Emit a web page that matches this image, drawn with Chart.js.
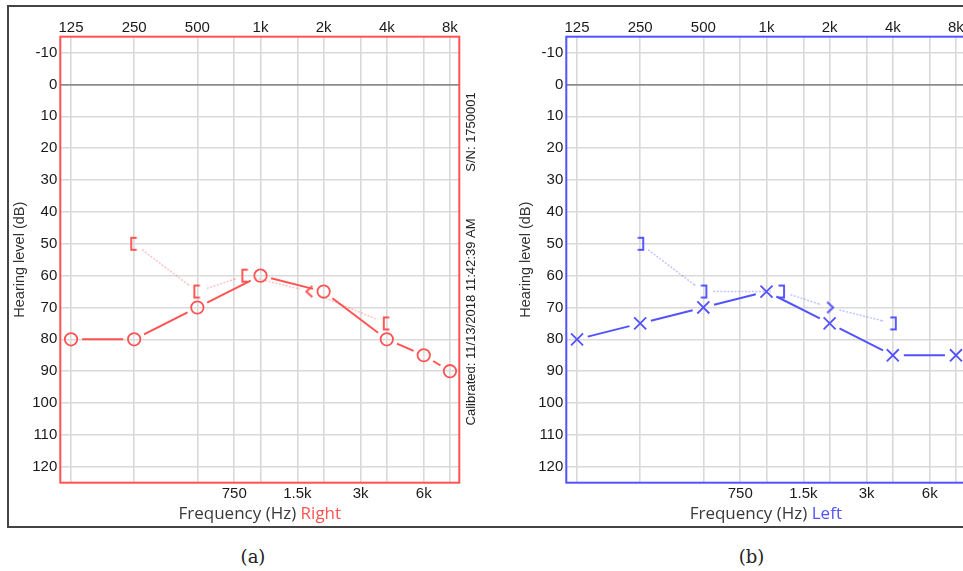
<!DOCTYPE html>
<html>
<head>
<meta charset="utf-8">
<title>Audiogram</title>
<script src="https://cdn.jsdelivr.net/npm/chart.js@4.4.1/dist/chart.umd.min.js"></script>
<style>
  html, body { margin: 0; padding: 0; background: #fff; width: 963px; height: 571px; overflow: hidden; }
  #frame { position: absolute; left: 7px; top: 5px; width: 1100px; height: 519px; border: 2px solid #444; }
  .panel { position: absolute; top: 8px; width: 472px; height: 517px; }
  .cap { position: absolute; top: 546px; line-height: 20px; font: 18px "DejaVu Serif", serif; color: #222; transform: translateX(-50%); }
</style>
</head>
<body>
<div id="frame"></div>
<div class="panel" style="left:8px"><canvas id="rightChart" width="472" height="517"></canvas></div>
<div class="panel" style="left:513.5px"><canvas id="leftChart" width="472" height="517"></canvas></div>
<div class="cap" style="left:253px">(a)</div>
<div class="cap" style="left:751.5px">(b)</div>
<script>
// axis ticks
const freqTop = [125, 250, 500, 1000, 2000, 4000, 8000];
const freqMid = [750, 1500, 3000, 6000];
const dbTicks = [-10, 0, 10, 20, 30, 40, 50, 60, 70, 80, 90, 100, 110, 120];

// right ear
const rightAirFreq = [125, 250, 500, 1000, 2000, 4000, 6000, 8000];
const rightAirDb = [80, 80, 70, 60, 65, 80, 85, 90];
const rightBoneFreq = [250, 500, 1000, 2000, 4000];
const rightBoneDb = [50, 65, 60, 65, 75];
const rightBoneSym = ['[', '[', '[', '<', '['];

// left ear
const leftAirFreq = [125, 250, 500, 1000, 2000, 4000, 8000];
const leftAirDb = [80, 75, 70, 65, 75, 85, 85];
const leftBoneFreq = [250, 500, 1000, 2000, 4000];
const leftBoneDb = [50, 65, 65, 70, 75];
const leftBoneSym = [']', ']', ']', '>', ']'];

// bone symbols are nudged sideways (in octaves) where they would sit on an air marker
const rightBoneNudge = [0, 0, -0.24, -0.22, 0];
const leftBoneNudge = [0, 0, 0.23, 0, 0];

const RED = '#ff5252';
const BLUE = '#5252ff';
const tickFont = { family: 'Liberation Sans', size: 15 };

function fmtFreq(v) {
    return v >= 1000 ? (v / 1000) + 'k' : String(v);
}

function symbol(kind, color) {
    const c = document.createElement('canvas');
    c.width = 16; c.height = 16;
    const g = c.getContext('2d');
    g.strokeStyle = color;
    g.lineWidth = 1.9;
    g.beginPath();
    if (kind === '[') { g.moveTo(10.5, 2); g.lineTo(5, 2); g.lineTo(5, 14); g.lineTo(10.5, 14); }
    if (kind === ']') { g.moveTo(5.5, 2); g.lineTo(11, 2); g.lineTo(11, 14); g.lineTo(5.5, 14); }
    if (kind === '<') { g.moveTo(10.5, 2.5); g.lineTo(4.5, 8); g.lineTo(10.5, 13.5); }
    if (kind === '>') { g.moveTo(5.5, 2.5); g.lineTo(11.5, 8); g.lineTo(5.5, 13.5); }
    g.stroke();
    return c;
}

// line segment that stops short of both markers
function gapDash(gap) {
    return ctx => {
        const L = Math.hypot(ctx.p1.x - ctx.p0.x, ctx.p1.y - ctx.p0.y);
        return [0, gap, Math.max(L - 2 * gap, 0), gap];
    };
}

function dottedGapDash(gap, on, off) {
    return ctx => {
        const L = Math.hypot(ctx.p1.x - ctx.p0.x, ctx.p1.y - ctx.p0.y);
        const arr = [0, gap];
        let rem = L - 2 * gap;
        while (rem > on + off) { arr.push(on, off); rem -= on + off; }
        arr.push(Math.max(rem, 0), gap);
        return arr;
    };
}

const audioDecor = {
    id: 'audioDecor',
    afterDatasetsDraw(chart, args, opts) {
        const a = chart.chartArea;
        const ctx = chart.ctx;
        ctx.save();
        ctx.strokeStyle = opts.color;
        ctx.lineWidth = 2;
        ctx.strokeRect(a.left, a.top, a.right - a.left, a.bottom - a.top);
        ctx.restore();
    },
    afterDraw(chart, args, opts) {
        const a = chart.chartArea;
        const ctx = chart.ctx;
        ctx.save();
        // x axis title with coloured ear name
        ctx.font = '17px "Open Sans"';
        const t1 = 'Frequency (Hz) ';
        const w1 = ctx.measureText(t1).width;
        const w2 = ctx.measureText(opts.ear).width;
        const x0 = (a.left + a.right) / 2 - (w1 + w2) / 2;
        const y0 = a.bottom + 36.6;
        ctx.textAlign = 'left';
        ctx.textBaseline = 'alphabetic';
        ctx.fillStyle = '#3a3a3a';
        ctx.fillText(t1, x0, y0);
        ctx.fillStyle = opts.color;
        ctx.fillText(opts.ear, x0 + w1, y0);
        // device info along the right edge
        ctx.font = '13px "Liberation Sans"';
        ctx.fillStyle = '#222';
        ctx.textAlign = 'center';
        ctx.textBaseline = 'middle';
        ctx.translate(a.right + 11.7, 0);
        ctx.rotate(-Math.PI / 2);
        ctx.fillText('S/N: 1750001', -124, 0);
        ctx.fillText('Calibrated: 11/13/2018 11:42:39 AM', -314, 0);
        ctx.restore();
    }
};

function makeAudiogram(id, ear, color, boneColor, airFreq, airDb, airStyle, airRadius,
                       boneFreq, boneDb, boneSym, boneNudge) {
    const symbols = boneSym.map(s => symbol(s, color));
    const xMin = 125 * Math.pow(2, -0.17);
    const xMax = 8000 * Math.pow(2, 0.148);
    const grid = { color: '#d9d9d9', lineWidth: 1.6, drawTicks: false };

    new Chart(document.getElementById(id), {
        type: 'line',
        data: {
            datasets: [{
                label: ear + ' air',
                data: airFreq.map((f, i) => ({ x: f, y: airDb[i] })),
                xAxisID: 'xTop',
                borderColor: color,
                borderWidth: 2,
                tension: 0,
                pointStyle: airStyle,
                pointRadius: airRadius,
                pointBorderWidth: 1.8,
                pointBorderColor: color,
                pointBackgroundColor: 'rgba(0,0,0,0)',
                segment: { borderDash: gapDash(11) },
                order: 1
            }, {
                label: ear + ' bone',
                data: boneFreq.map((f, i) => ({ x: f * Math.pow(2, boneNudge[i]), y: boneDb[i] })),
                xAxisID: 'xTop',
                borderColor: boneColor,
                borderWidth: 1.5,
                tension: 0,
                pointStyle: ctx => symbols[ctx.dataIndex],
                pointRadius: 8,
                segment: { borderDash: dottedGapDash(10, 2, 1.5) },
                order: 2
            }]
        },
        options: {
            responsive: false,
            animation: false,
            events: [],
            layout: { padding: { left: 0, top: 0, right: 20.7, bottom: 0 } },
            plugins: {
                legend: { display: false },
                tooltip: { enabled: false },
                audioDecor: { ear: ear, color: color }
            },
            scales: {
                xTop: {
                    type: 'logarithmic',
                    position: 'top',
                    min: xMin,
                    max: xMax,
                    afterBuildTicks: s => { s.ticks = freqTop.map(v => ({ value: v })); },
                    afterFit: s => { s.height = 28.7; },
                    ticks: { callback: v => fmtFreq(v), autoSkip: false, maxRotation: 0, padding: 0, color: '#1a1a1a', font: tickFont },
                    grid: grid,
                    border: { display: false }
                },
                xBot: {
                    type: 'logarithmic',
                    position: 'bottom',
                    min: xMin,
                    max: xMax,
                    afterBuildTicks: s => { s.ticks = freqMid.map(v => ({ value: v })); },
                    afterFit: s => { s.height = 42.3; },
                    ticks: { callback: v => fmtFreq(v), autoSkip: false, maxRotation: 0, padding: 2.5, color: '#1a1a1a', font: tickFont },
                    grid: grid,
                    border: { display: false }
                },
                y: {
                    type: 'linear',
                    position: 'left',
                    reverse: true,
                    min: -15,
                    max: 125,
                    afterBuildTicks: s => { s.ticks = dbTicks.map(v => ({ value: v })); },
                    afterFit: s => { s.width = 52.3; },
                    ticks: { color: '#1a1a1a', font: tickFont, padding: 3 },
                    grid: {
                        color: c => (c.tick && c.tick.value === 0 ? '#8c8c8c' : '#d9d9d9'),
                        lineWidth: c => (c.tick && c.tick.value === 0 ? 1.8 : 1.6),
                        drawTicks: false
                    },
                    border: { display: false },
                    title: {
                        display: true,
                        text: 'Hearing level (dB)',
                        color: '#333',
                        font: { family: 'Liberation Sans', size: 14.5 },
                        padding: { top: 3, bottom: 0 }
                    }
                }
            }
        },
        plugins: [audioDecor]
    });
}

makeAudiogram('rightChart', 'Right', RED, 'rgba(255,82,82,0.35)',
    rightAirFreq, rightAirDb, 'circle', 6.2,
    rightBoneFreq, rightBoneDb, rightBoneSym, rightBoneNudge);

makeAudiogram('leftChart', 'Left', BLUE, 'rgba(82,82,255,0.35)',
    leftAirFreq, leftAirDb, 'crossRot', 8.5,
    leftBoneFreq, leftBoneDb, leftBoneSym, leftBoneNudge);
</script>
</body>
</html>
